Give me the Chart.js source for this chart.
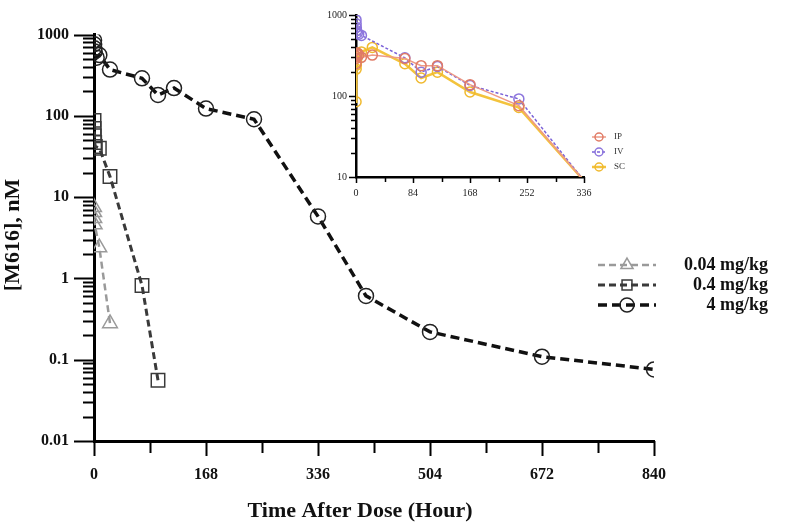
<!DOCTYPE html>
<html>
<head>
<meta charset="utf-8">
<script src="https://cdn.jsdelivr.net/npm/chart.js@4/dist/chart.umd.min.js"></script>
<style>
body{margin:0;background:#fff;}
#wrap{position:relative;width:800px;height:523px;}
#main{position:absolute;left:0;top:0;}
#inset{position:absolute;left:300px;top:0;}
</style>
</head>
<body>
<div id="wrap">
<canvas id="main" width="800" height="523"></canvas>
<canvas id="inset" width="360" height="215"></canvas>
</div>
<script>
//メインのグラフのデータ（用量ごと）
var hour_004 = [0.083, 0.25, 0.5, 1, 8, 24];
var conc_004 = [7.5, 6.5, 5.5, 4.6, 2.4, 0.28];
var hour_04 = [0.083, 0.25, 0.5, 1, 2, 8, 24, 72, 96];
var conc_04 = [88, 70, 57, 47, 42, 40, 18, 0.82, 0.056];
var hour_4 = [0.083, 0.25, 0.5, 1, 4, 8, 24, 72, 96, 120, 168, 240, 336, 408, 504, 672, 840];
var conc_4 = [850, 760, 680, 620, 520, 560, 371, 290, 181, 220, 123, 91, 5.8, 0.61, 0.22, 0.109, 0.076];
var dose_labels = ['0.04 mg/kg', '0.4 mg/kg', '4 mg/kg'];
var x_ticks = [0, 168, 336, 504, 672, 840];
var y_ticks = [0.01, 0.1, 1, 10, 100, 1000];

//右上の小さいグラフ（投与経路ごと）
var route_labels = ['IP', 'IV', 'SC'];
var hour_route = [0.083, 0.25, 0.5, 1, 2, 4, 8, 24, 72, 96, 120, 168, 240, 336];
var conc_ip = [250, 290, 310, 330, 340, 320, 300, 320, 290, 237, 237, 138, 76, 9];
var conc_iv = [870, 780, 700, 640, 600, 580, 560, null, 296, 197, 232, 135, 92, 9];
var conc_sc = [85, 215, 240, 265, 300, 330, 350, 398, 250, 167, 197, 112, 72, 9];
var inset_x_ticks = [0, 84, 168, 252, 336];
var inset_y_ticks = [10, 100, 1000];

var serif = '"Liberation Serif", "Times New Roman", serif';

function to_points(xs, ys){
    return xs.map(function(x, i){ return {x: x, y: ys[i]}; });
}

//目盛りの線を自分で描く（長いのと短いのがあるので）
var tick_marks = {
    id: 'tick_marks',
    afterDraw: function(chart, args, opt){
        var ctx = chart.ctx;
        var xs = chart.scales.x, ys = chart.scales.y;
        var area = chart.chartArea;
        ctx.save();
        ctx.strokeStyle = '#000';
        ctx.lineWidth = opt.width;
        ctx.beginPath();
        for(var t = xs.min; t <= xs.max + 0.001; t += opt.xMinor){
            var px = Math.round(xs.getPixelForValue(t)) + 0.5;
            var len = (Math.abs(t % opt.xMajor) < 0.001) ? opt.xMajorLen : opt.xMinorLen;
            ctx.moveTo(px, area.bottom);
            ctx.lineTo(px, area.bottom + len);
        }
        var d0 = Math.round(Math.log10(ys.min)), d1 = Math.round(Math.log10(ys.max));
        for(var d = d0; d <= d1; d++){
            for(var m = 1; m <= 9; m++){
                var v = m * Math.pow(10, d);
                if(v > ys.max * 1.001) break;
                var py = Math.round(ys.getPixelForValue(v)) + 0.5;
                var l = (m == 1) ? opt.yMajorLen : opt.yMinorLen;
                ctx.moveTo(area.left, py);
                ctx.lineTo(area.left - l, py);
            }
        }
        ctx.stroke();
        ctx.restore();
    }
};

//軸のタイトル（位置を合わせたいので手で描く）
var axis_titles = {
    id: 'axis_titles',
    afterDraw: function(chart, args, opt){
        if(!opt.x) return;
        var ctx = chart.ctx;
        ctx.save();
        ctx.fillStyle = '#111';
        ctx.font = opt.font;
        ctx.textAlign = 'center';
        ctx.textBaseline = 'middle';
        ctx.fillText(opt.x.text, opt.x.cx, opt.x.cy);
        ctx.translate(opt.y.cx, opt.y.cy);
        ctx.rotate(-Math.PI / 2);
        ctx.fillText(opt.y.text, 0, 0);
        ctx.restore();
    }
};

//凡例も自分で描く（線の上にマーカー）
var line_legend = {
    id: 'line_legend',
    afterDraw: function(chart, args, opt){
        var ctx = chart.ctx;
        ctx.save();
        chart.data.datasets.forEach(function(ds, i){
            var y = opt.y + i * opt.gap;
            ctx.strokeStyle = ds.borderColor;
            ctx.lineWidth = ds.borderWidth;
            ctx.setLineDash(ds.borderDash || []);
            ctx.beginPath();
            ctx.moveTo(opt.x, y);
            ctx.lineTo(opt.x + opt.len, y);
            ctx.stroke();
            ctx.setLineDash([]);
            ctx.strokeStyle = ds.pointBorderColor;
            ctx.fillStyle = 'rgba(0,0,0,0)';
            ctx.lineWidth = ds.pointBorderWidth;
            Chart.helpers.drawPoint(ctx, {pointStyle: ds.pointStyle, rotation: 0, radius: opt.radius, borderWidth: ds.pointBorderWidth}, opt.x + opt.len / 2, y);
            ctx.fillStyle = opt.color;
            ctx.font = opt.font;
            ctx.textAlign = opt.align;
            ctx.textBaseline = 'middle';
            ctx.fillText(ds.label, opt.textX, y);
        });
        ctx.restore();
    }
};

//メインのグラフ
var main_chart = new Chart(document.getElementById('main'), {
    type: 'line',
    data: {
        datasets: [{
            label: dose_labels[0],
            data: to_points(hour_004, conc_004),
            borderColor: '#9a9a9a', borderWidth: 2.5, borderDash: [7, 4],
            pointStyle: 'triangle', pointRadius: 8.5, pointBorderColor: '#9a9a9a', pointBorderWidth: 1.5,
            pointBackgroundColor: 'rgba(0,0,0,0)'
        }, {
            label: dose_labels[1],
            data: to_points(hour_04, conc_04),
            borderColor: '#3a3a3a', borderWidth: 3, borderDash: [7, 4],
            pointStyle: 'rect', pointRadius: 9.5, pointBorderColor: '#3a3a3a', pointBorderWidth: 1.5,
            pointBackgroundColor: 'rgba(0,0,0,0)'
        }, {
            label: dose_labels[2],
            data: to_points(hour_4, conc_4),
            borderColor: '#111', borderWidth: 3.5, borderDash: [9, 5],
            pointStyle: 'circle', pointRadius: 7.5, pointBorderColor: '#222', pointBorderWidth: 1.5,
            pointBackgroundColor: 'rgba(0,0,0,0)'
        }]
    },
    options: {
        responsive: false,
        animation: false,
        layout: {padding: {top: 23, right: 146, left: 0, bottom: 0}},
        scales: {
            x: {
                type: 'linear', min: 0, max: 840,
                afterFit: function(s){ s.height = 82; },
                afterBuildTicks: function(s){ s.ticks = x_ticks.map(function(v){ return {value: v}; }); },
                grid: {display: false, drawTicks: false},
                border: {display: true, color: '#000', width: 3},
                ticks: {color: '#111', padding: 24, font: {family: serif, size: 16, weight: 'bold'}}
            },
            y: {
                type: 'logarithmic', min: 0.01, max: 1000,
                afterFit: function(s){ s.width = 94; },
                afterBuildTicks: function(s){ s.ticks = y_ticks.map(function(v){ return {value: v}; }); },
                grid: {display: false, drawTicks: false},
                border: {display: true, color: '#000', width: 3},
                ticks: {color: '#111', padding: 25, font: {family: serif, size: 16, weight: 'bold'},
                    callback: function(v){ return String(v); }}
            }
        },
        plugins: {
            legend: {display: false},
            tooltip: {enabled: false},
            tick_marks: {width: 2, xMinor: 84, xMajor: 168, xMajorLen: 15, xMinorLen: 12, yMajorLen: 20, yMinorLen: 11},
            axis_titles: {font: 'bold 22px ' + serif,
                x: {text: 'Time After Dose (Hour)', cx: 360, cy: 511},
                y: {text: '[M616], nM', cx: 13, cy: 235}},
            line_legend: {x: 598, y: 265, gap: 20, len: 58, radius: 7, textX: 768, align: 'right', color: '#111',
                font: 'bold 18px ' + serif}
        }
    },
    plugins: [tick_marks, axis_titles, line_legend]
});

//右上のグラフ
var inset_chart = new Chart(document.getElementById('inset'), {
    type: 'line',
    data: {
        datasets: [{
            label: route_labels[0],
            data: to_points(hour_route, conc_ip),
            borderColor: '#ee9a86', borderWidth: 1.5,
            pointStyle: 'circle', pointBorderColor: '#e07b66', pointBorderWidth: 1.5,
            pointBackgroundColor: 'rgba(0,0,0,0)',
            pointRadius: [5,5,5,5,5,5,5,5,5,5,5,5,5,0]
        }, {
            label: route_labels[1],
            data: to_points(hour_route, conc_iv),
            borderColor: '#7b62d8', borderWidth: 1.5, borderDash: [3, 2], spanGaps: true,
            pointStyle: 'circle', pointBorderColor: '#8d76dd', pointBorderWidth: 1.5,
            pointBackgroundColor: 'rgba(0,0,0,0)',
            pointRadius: [5,5,5,5,5,5,5,5,5,5,5,5,5,0]
        }, {
            label: route_labels[2],
            data: to_points(hour_route, conc_sc),
            borderColor: '#f3c33c', borderWidth: 2.5,
            pointStyle: 'circle', pointBorderColor: '#f0b92e', pointBorderWidth: 1.5,
            pointBackgroundColor: 'rgba(0,0,0,0)',
            pointRadius: [5,5,5,5,5,5,5,5,5,5,5,5,5,0]
        }]
    },
    options: {
        responsive: false,
        animation: false,
        layout: {padding: {top: 7, right: 76, left: 0, bottom: 0}},
        scales: {
            x: {
                type: 'linear', min: 0, max: 336,
                afterFit: function(s){ s.height = 38; },
                afterBuildTicks: function(s){ s.ticks = inset_x_ticks.map(function(v){ return {value: v}; }); },
                grid: {display: false, drawTicks: false},
                border: {display: true, color: '#000', width: 2.5},
                ticks: {color: '#222', padding: 10, font: {family: serif, size: 10}}
            },
            y: {
                type: 'logarithmic', min: 10, max: 1000,
                afterFit: function(s){ s.width = 56; },
                afterBuildTicks: function(s){ s.ticks = inset_y_ticks.map(function(v){ return {value: v}; }); },
                grid: {display: false, drawTicks: false},
                border: {display: true, color: '#000', width: 2.5},
                ticks: {color: '#222', padding: 9, font: {family: serif, size: 10},
                    callback: function(v){ return String(v); }}
            }
        },
        plugins: {
            legend: {display: false},
            tooltip: {enabled: false},
            tick_marks: {width: 1.5, xMinor: 42, xMajor: 84, xMajorLen: 6, xMinorLen: 5, yMajorLen: 7, yMinorLen: 5},
            line_legend: {x: 292, y: 137, gap: 15, len: 14, radius: 4, textX: 314, align: 'left', color: '#333',
                font: '9px ' + serif}
        }
    },
    plugins: [tick_marks, line_legend]
});
</script>
</body>
</html>
